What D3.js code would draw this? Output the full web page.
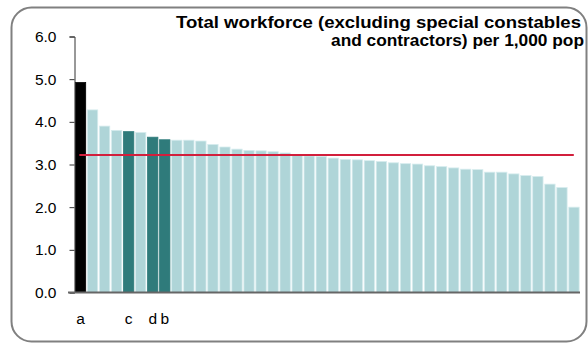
<!DOCTYPE html>
<html><head><meta charset="utf-8">
<script src="https://cdn.jsdelivr.net/npm/d3@7"></script>
<style>body{margin:0;background:#fff;} svg{display:block;font-family:"Liberation Sans",Arial,sans-serif;}</style>
</head><body><svg id="c" width="588" height="344"></svg>
<script>
const values = [4.92,4.28,3.90,3.80,3.77,3.75,3.64,3.58,3.57,3.57,3.55,3.47,3.41,3.36,3.33,3.32,3.30,3.27,3.23,3.20,3.19,3.15,3.12,3.11,3.09,3.07,3.04,3.02,3.01,2.97,2.95,2.92,2.89,2.88,2.82,2.82,2.78,2.74,2.72,2.54,2.46,2.00];
const labels = ["a","","","","c","","d","b","","","","","","","","","","","","","","","","","","","","","","","","","","","","","","","","","",""];
const groups = ["own","other","other","other","peer","other","peer","peer","other","other","other","other","other","other","other","other","other","other","other","other","other","other","other","other","other","other","other","other","other","other","other","other","other","other","other","other","other","other","other","other","other","other"];
const average = 3.22;
const yTicks = [0,1,2,3,4,5,6];
const titleLines = ["Total workforce (excluding special constables","and contractors) per 1,000 pop"];

const svg = d3.select("#c");
const colors = {own:"#000000", peer:"#2f7b7b", other:"#afd5d8"};
const strokes = {own:"#000000", peer:"#2f7b7b", other:"#d6ecee"};

// frame
svg.append("rect").attr("x",11.5).attr("y",7.5).attr("width",575).attr("height",334)
  .attr("rx",20).attr("fill","none").attr("stroke","#808080").attr("stroke-width",2);

const idx = values.map((d,i)=>i);
const x = d3.scaleBand().domain(idx).range([74.5,580]).paddingInner(0.14).paddingOuter(0.07);
const y = d3.scaleLinear().domain([0,6]).range([292.5,36.5]);

// bars
svg.append("g").selectAll("rect").data(values).join("rect")
  .attr("x",(d,i)=>x(i)).attr("width",x.bandwidth())
  .attr("y",d=>y(d)).attr("height",d=>y(0)-y(d))
  .attr("fill",(d,i)=>colors[groups[i]])
  .attr("stroke",(d,i)=>strokes[groups[i]]).attr("stroke-width",0.8);

// average line
svg.append("line").attr("x1",x(0)+4).attr("x2",x(values.length-1)+5)
  .attr("y1",y(average)).attr("y2",y(average))
  .attr("stroke","#d21f3c").attr("stroke-width",2);

// y axis
const ya = svg.append("g").attr("transform","translate(74.5,0)")
  .call(d3.axisLeft(y).tickValues(yTicks).tickFormat(d3.format(".1f")).tickSize(5).tickPadding(13));
ya.selectAll("path,line").attr("stroke","#333").attr("stroke-width",1);
ya.selectAll("text").attr("font-size",15.5).attr("fill","#000").attr("font-family","Liberation Sans, Arial, sans-serif");

// x axis
const xa = svg.append("g").attr("transform","translate(0,292.5)")
  .call(d3.axisBottom(x).tickFormat(i=>labels[i]).tickSize(0).tickPadding(20));
xa.select("path").attr("d","M68,0H580").attr("stroke","#666").attr("stroke-width",2);
xa.selectAll("text").attr("font-size",15.5).attr("fill","#000").attr("font-family","Liberation Sans, Arial, sans-serif");

// title
const titleLen = [405, 253];
svg.append("g").selectAll("text").data(titleLines).join("text")
  .attr("x",(d,i)=>i===0?581:584).attr("y",(d,i)=>28+i*18).attr("text-anchor","end")
  .attr("textLength",(d,i)=>titleLen[i]).attr("lengthAdjust","spacingAndGlyphs")
  .attr("font-size",16.5).attr("font-weight","bold").attr("fill","#000").text(d=>d);
</script></body></html>
